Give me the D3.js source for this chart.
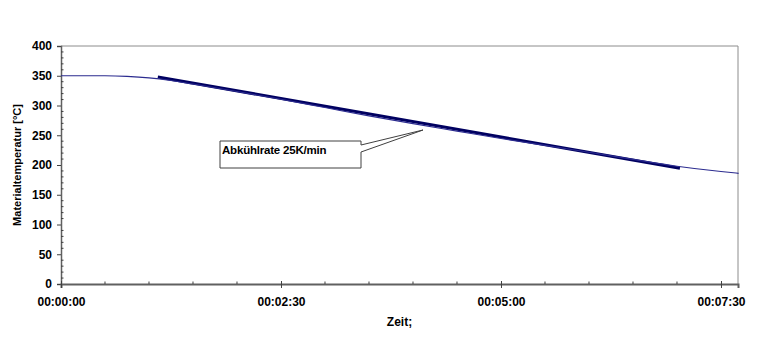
<!DOCTYPE html>
<html>
<head>
<meta charset="utf-8">
<script src="https://cdn.jsdelivr.net/npm/d3@7"></script>
<style>
  body { margin: 0; background: #fff; }
  svg text { font-family: "Liberation Sans", Arial, sans-serif; font-weight: bold; fill: #000; }
</style>
</head>
<body>
<svg id="chart" width="768" height="353"></svg>
<script>
// measured curve (seconds, °C)
let measTime = [0, 30, 45, 60, 75, 90, 120, 150, 180, 210, 240, 270, 300, 330, 360, 390, 420, 450, 462];
let measTemp = [350, 350, 349, 346.5, 342, 336, 323.5, 310.5, 296.5, 282.5, 269.5, 257, 244.5, 233, 221.5, 209.5, 198, 189, 186];
// fitted cooling-rate line
let fitTime = [66, 422];
let fitTemp = [348, 194.5];
let yTicks = [0, 50, 100, 150, 200, 250, 300, 350, 400];
let xTicks = [0, 150, 300, 450];
let noteText = 'Abkühlrate 25K/min';

const svg = d3.select('#chart');
const pL = 61, pR = 738, pT = 46, pB = 284;

const x = d3.scaleLinear().domain([0, 461.6]).range([pL, pR]);
const y = d3.scaleLinear().domain([0, 400]).range([pB, pT]);

const fmt = s => {
    const h = Math.floor(s / 3600), m = Math.floor(s / 60) % 60, sec = s % 60;
    return [h, m, sec].map(v => String(v).padStart(2, '0')).join(':');
};

// frame (top + right)
svg.append('path')
    .attr('d', 'M' + pL + ',' + pT + 'H' + pR + 'V' + pB)
    .attr('fill', 'none').attr('stroke', '#8c8c8c').attr('stroke-width', 1);

// y axis
const yAxis = svg.append('g')
    .attr('transform', 'translate(' + pL + ',0)')
    .call(d3.axisLeft(y).tickValues(yTicks).tickSize(4).tickPadding(5));
yAxis.select('.domain').attr('stroke', '#606060').attr('stroke-width', 1.5);
yAxis.selectAll('.tick line').attr('stroke', '#404040');
yAxis.selectAll('.tick text').attr('font-size', '12px');
// y minor ticks
svg.append('g').selectAll('line')
    .data(d3.range(10, 400, 10).filter(v => v % 50 !== 0))
    .enter().append('line')
    .attr('x1', pL).attr('x2', pL + 2.5)
    .attr('y1', d => y(d)).attr('y2', d => y(d))
    .attr('stroke', '#404040');

// x axis
const xAxis = svg.append('g')
    .attr('transform', 'translate(0,' + pB + ')')
    .call(d3.axisBottom(x).tickValues(xTicks).tickFormat(fmt).tickSize(4).tickPadding(9));
xAxis.select('.domain').attr('stroke', '#606060').attr('stroke-width', 2);
xAxis.selectAll('.tick line').attr('stroke', '#404040').attr('y1', -3);
xAxis.selectAll('.tick text').attr('font-size', '12px');
// x minor ticks
svg.append('g').selectAll('line')
    .data(d3.range(30, 461, 30).filter(v => v % 150 !== 0))
    .enter().append('line')
    .attr('x1', d => x(d)).attr('x2', d => x(d))
    .attr('y1', pB - 2.5).attr('y2', pB)
    .attr('stroke', '#404040');

// axis titles
svg.append('text')
    .attr('x', (pL + pR) / 2).attr('y', 326)
    .attr('text-anchor', 'middle').attr('font-size', '12px')
    .text('Zeit;');
svg.append('text')
    .attr('transform', 'translate(21,' + ((pT + pB) / 2) + ') rotate(-90)')
    .attr('text-anchor', 'middle').attr('font-size', '11px')
    .text('Materialtemperatur [°C]');

// lines
const meas = measTime.map((t, i) => [t, measTemp[i]]);
const fit = fitTime.map((t, i) => [t, fitTemp[i]]);
const line = d3.line().x(d => x(d[0])).y(d => y(d[1]));

svg.append('path')
    .datum(fit)
    .attr('d', line)
    .attr('fill', 'none').attr('stroke', '#000060').attr('stroke-width', 3);
svg.append('path')
    .datum(meas)
    .attr('d', line.curve(d3.curveMonotoneX))
    .attr('fill', 'none').attr('stroke', '#2b2b8f').attr('stroke-width', 1.1);

// callout
const note = svg.append('g');
note.append('path')
    .attr('d', 'M220,141H361V145L423,130L361,152V168H220Z')
    .attr('fill', '#fff').attr('stroke', '#404040').attr('stroke-width', 1);
note.append('text')
    .attr('x', 222).attr('y', 154)
    .attr('font-size', '11.5px').attr('letter-spacing', '-0.2px')
    .text(noteText);
</script>
</body>
</html>
